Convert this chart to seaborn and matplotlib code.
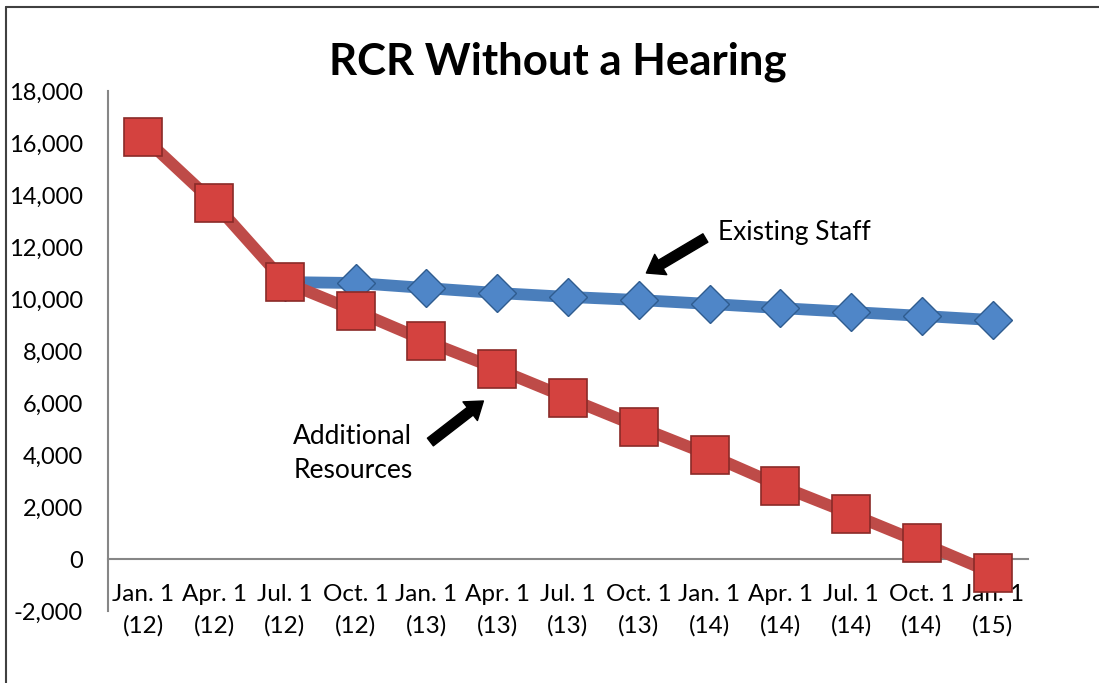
import numpy as np
import pandas as pd
import matplotlib
matplotlib.use("Agg")
import matplotlib.pyplot as plt
from matplotlib.ticker import FuncFormatter
from matplotlib.lines import Line2D
import seaborn as sns

# Chart data
dates = ["Jan. 1\n(12)", "Apr. 1\n(12)", "Jul. 1\n(12)", "Oct. 1\n(12)", "Jan. 1\n(13)",
         "Apr. 1\n(13)", "Jul. 1\n(13)", "Oct. 1\n(13)", "Jan. 1\n(14)", "Apr. 1\n(14)",
         "Jul. 1\n(14)", "Oct. 1\n(14)", "Jan. 1\n(15)"]
additional = [16230, 13690, 10650, 9540, 8380, 7310, 6190, 5080, 4000, 2810, 1730, 615, -540]
existing = [np.nan, np.nan, 10650, 10615, 10420, 10230, 10080, 9960, 9810, 9650, 9500, 9350, 9190]
yticks = list(range(-2000, 18001, 2000))

sns.set_style("white")
plt.rcParams["font.family"] = ["Lato", "DejaVu Sans"]
plt.rcParams["text.color"] = "black"

fig = plt.figure(figsize=(10.99, 6.83), dpi=100)
ax = fig.add_axes([108 / 1099, 72 / 683, 920 / 1099, 520 / 683])

pos = np.arange(len(dates))
df = pd.DataFrame({"pos": pos, "additional": additional, "existing": existing})

# Existing staff (blue diamonds)
sns.lineplot(data=df.dropna(), x="pos", y="existing", ax=ax, color="#4A7EBB", lw=8.5,
             marker="D", markersize=19, markerfacecolor="#4F86C8",
             markeredgecolor="#2F5C8F", markeredgewidth=1.0, zorder=3)
# Additional resources (red squares)
sns.lineplot(data=df, x="pos", y="additional", ax=ax, color="#BE4B48", lw=8.5,
             marker="s", markersize=27, markerfacecolor="#D4423F",
             markeredgecolor="#8A2A28", markeredgewidth=1.2, zorder=4)

ax.set_xlim(-0.5, len(dates) - 0.5)
ax.set_ylim(-2000, 18000)
ax.set_yticks(yticks)
ax.yaxis.set_major_formatter(FuncFormatter(lambda v, p: f"{int(v):,}"))
ax.set_xticks(pos)
ax.set_xticklabels(dates)
ax.set_xticks(np.arange(-0.5, len(dates), 1), minor=True)
ax.set_xlabel("")
ax.set_ylabel("")

for s in ["top", "right"]:
    ax.spines[s].set_visible(False)
ax.spines["bottom"].set_position(("data", 0))
for s in ["left", "bottom"]:
    ax.spines[s].set_color("#868686")
    ax.spines[s].set_linewidth(1.5)

ax.tick_params(axis="x", which="major", length=0, pad=18, labelsize=17.5, labelcolor="black")
ax.tick_params(axis="x", which="minor", length=5, width=1.5, color="#868686", direction="out")
ax.tick_params(axis="y", length=6, width=1.5, color="#868686", direction="out",
               pad=12, labelsize=17, labelcolor="black")
for t in ax.get_xticklabels():
    t.set_linespacing(1.55)

fig.text(558 / 1099, 1 - 62 / 683, "RCR Without a Hearing", ha="center", va="center",
         fontsize=31.5, fontweight="bold", color="black")

# Annotations
def px(xp, yp):
    return ((xp - 145) / 70.77, (559 - yp) / 26 * 1000)

arrow = dict(facecolor="black", edgecolor="black", width=7, headwidth=17, headlength=12, shrink=0)
ax.annotate("", xy=px(648, 273), xytext=px(707, 238), arrowprops=arrow, zorder=5)
ax.annotate("", xy=px(485, 401), xytext=px(432, 442), arrowprops=arrow, zorder=5)
ax.text(*px(720, 233), "Existing Staff", ha="left", va="center", fontsize=19)
ax.text(*px(295, 454), "Additional\nResources", ha="left", va="center", fontsize=19,
        linespacing=1.45)

# chart border (top and left visible)
fig.add_artist(Line2D([6 / 1099, 6 / 1099], [0, 1 - 7 / 683], transform=fig.transFigure,
                      color="#404040", lw=1.5))
fig.add_artist(Line2D([6 / 1099, 1], [1 - 7 / 683, 1 - 7 / 683], transform=fig.transFigure,
                      color="#404040", lw=1.5))

fig.savefig("out.png", dpi=100)
